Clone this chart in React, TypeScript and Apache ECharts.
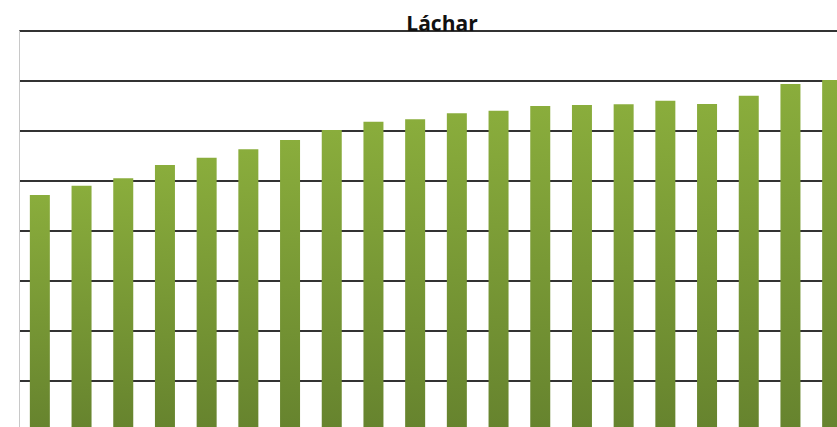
import React, { useEffect, useRef } from "react";
import * as echarts from "echarts";

const categories = [
  "1996", "1997", "1998", "1999", "2000", "2001", "2002", "2003", "2004", "2005",
  "2006", "2007", "2008", "2009", "2010", "2011", "2012", "2013", "2014", "2015",
];
const population = [
  2360, 2453, 2527, 2660, 2733, 2817, 2910, 3010, 3093, 3117,
  3177, 3203, 3250, 3260, 3267, 3303, 3270, 3353, 3470, 3510,
];
const titleText = "Láchar";

export default function App() {
  const ref = useRef<HTMLDivElement>(null);
  useEffect(() => {
    if (!ref.current) return;
    const chart = echarts.init(ref.current, undefined, { renderer: "svg" });
    chart.setOption({
      animation: false,
      backgroundColor: "#ffffff",
      title: {
        text: titleText,
        left: 437,
        top: 7,
        textAlign: "center",
        textStyle: {
          fontFamily: "Open Sans",
          fontWeight: "bold",
          fontSize: 21,
          color: "#111111",
        },
      },
      grid: {
        left: 19,
        top: 31,
        right: -16,
        bottom: -4,
        containLabel: false,
        outerBoundsMode: "none",
      },
      xAxis: {
        type: "category",
        data: categories,
        axisLine: { show: false },
        axisTick: { show: false },
        axisLabel: { show: false },
      },
      yAxis: {
        type: "value",
        min: 0,
        max: 4000,
        interval: 500,
        axisLabel: { show: false },
        axisTick: { show: false },
        axisLine: { show: true, lineStyle: { color: "#c8c8c8", width: 1 } },
        splitLine: { lineStyle: { color: "#333333", width: 2 } },
      },
      series: [
        {
          type: "bar",
          data: population,
          barWidth: 20,
          itemStyle: {
            color: new echarts.graphic.LinearGradient(0, 0, 0, 1, [
              { offset: 0, color: "#8aad3c" },
              { offset: 1, color: "#66832e" },
            ]),
          },
        },
      ],
    });
    return () => chart.dispose();
  }, []);
  return (
    <div
      ref={ref}
      style={{ position: "absolute", left: 0, top: 0, width: 837, height: 427 }}
    />
  );
}
